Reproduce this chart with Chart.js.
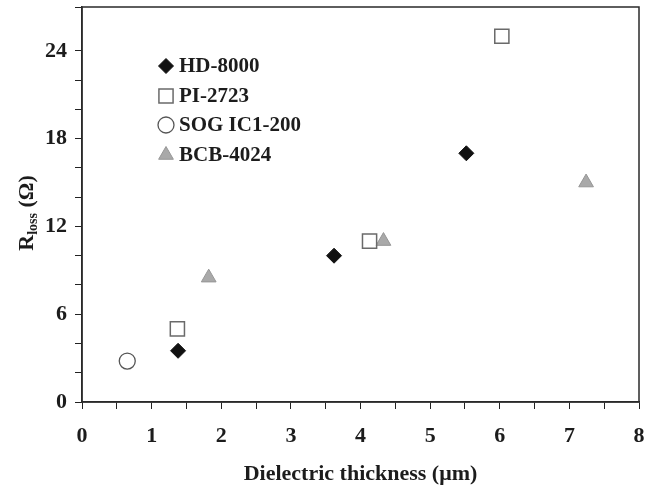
<!DOCTYPE html>
<html>
<head>
<meta charset="utf-8">
<script src="https://cdn.jsdelivr.net/npm/chart.js@4/dist/chart.umd.min.js"></script>
<style>
  html, body { margin: 0; padding: 0; background: #fff; }
  #wrap { width: 645px; height: 488px; }
</style>
</head>
<body>
<div id="wrap"><canvas id="grafica" width="645" height="488"></canvas></div>
<script>
// datos: espesor del dieléctrico (µm) contra R_loss (Ω)
const hdX   = [1.38, 3.62, 5.52];
const hdY   = [3.5, 10, 17];
const piX   = [1.37, 4.13, 6.03];
const piY   = [5, 11, 25];
const sogX  = [0.65];
const sogY  = [2.8];
const bcbX  = [1.82, 4.33, 7.24];
const bcbY  = [8.5, 11, 15];

const nombres = ['HD-8000', 'PI-2723', 'SOG IC1-200', 'BCB-4024'];
const xTicks = [0, 1, 2, 3, 4, 5, 6, 7, 8];
const yTicks = [0, 6, 12, 18, 24];

const FUENTE = '"Liberation Serif", "DejaVu Serif", serif';
const TINTA = '#1c1c1c';

const puntos = (xs, ys) => xs.map((x, i) => ({ x, y: ys[i] }));

// estilos de marcador por serie (se reutilizan en la leyenda)
const estilos = [
  { pointStyle: 'rectRot',  radius: 7.5, backgroundColor: '#111', borderColor: '#111', borderWidth: 1 },
  { pointStyle: 'rect',     radius: 10,  backgroundColor: 'rgba(255,255,255,0)', borderColor: '#6a6a6a', borderWidth: 1.5 },
  { pointStyle: 'circle',   radius: 8,   backgroundColor: 'rgba(255,255,255,0)', borderColor: '#555', borderWidth: 1.3 },
  { pointStyle: 'triangle', radius: 8.5, backgroundColor: '#a9a9a9', borderColor: '#969696', borderWidth: 1 },
];

const series = [
  puntos(hdX, hdY),
  puntos(piX, piY),
  puntos(sogX, sogY),
  puntos(bcbX, bcbY),
];

// sin relleno extra de etiquetas: el área de trazado llega a los bordes
const sinRelleno = (s) => {
  s.paddingLeft = 0;
  s.paddingRight = 0;
  s.paddingTop = 0;
  s.paddingBottom = 0;
};

// --- marco completo + leyenda dentro del área + título Y con subíndice ---
const extras = {
  id: 'extras',
  afterDraw(chart) {
    const { ctx, chartArea: a } = chart;
    ctx.save();
    ctx.strokeStyle = '#2a2a2a';
    ctx.lineWidth = 1.5;
    ctx.strokeRect(a.left, a.top, a.right - a.left, a.bottom - a.top);

    // leyenda
    const filasY = [66, 96, 125, 155];
    ctx.font = 'bold 21px ' + FUENTE;
    ctx.textBaseline = 'middle';
    ctx.textAlign = 'left';
    estilos.forEach((e, i) => {
      ctx.fillStyle = e.backgroundColor;
      ctx.strokeStyle = e.borderColor;
      ctx.lineWidth = e.borderWidth;
      Chart.helpers.drawPoint(ctx, {
        pointStyle: e.pointStyle, radius: e.radius, rotation: 0, borderWidth: e.borderWidth,
      }, 166, filasY[i]);
      ctx.fillStyle = TINTA;
      ctx.fillText(nombres[i], 179, filasY[i] + 1);
    });

    // título del eje Y: R_loss (Ω)
    ctx.translate(25, 213);
    ctx.rotate(-Math.PI / 2);
    ctx.textBaseline = 'alphabetic';
    const fGrande = 'bold 22px ' + FUENTE;
    const fChica = 'bold 14px ' + FUENTE;
    ctx.font = fGrande;
    const wR = ctx.measureText('R').width;
    const wResto = ctx.measureText(' (Ω)').width;
    ctx.font = fChica;
    const wSub = ctx.measureText('loss').width;
    let x = -(wR + wSub + wResto) / 2;
    ctx.font = fGrande;
    ctx.fillText('R', x, 8);
    x += wR;
    ctx.font = fChica;
    ctx.fillText('loss', x, 12);
    x += wSub;
    ctx.font = fGrande;
    ctx.fillText(' (Ω)', x, 8);
    ctx.restore();
  },
};

new Chart(document.querySelector('#grafica'), {
  type: 'scatter',
  data: {
    datasets: series.map((data, i) => ({
      label: nombres[i],
      data,
      pointStyle: estilos[i].pointStyle,
      pointRadius: estilos[i].radius,
      pointHoverRadius: estilos[i].radius,
      backgroundColor: estilos[i].backgroundColor,
      borderColor: estilos[i].borderColor,
      borderWidth: estilos[i].borderWidth,
    })),
  },
  options: {
    responsive: false,
    animation: false,
    layout: { autoPadding: false, padding: { top: 7, right: 6, left: 0, bottom: 0 } },
    plugins: { legend: { display: false }, tooltip: { enabled: false } },
    scales: {
      x: {
        type: 'linear',
        min: xTicks[0],
        max: xTicks[xTicks.length - 1],
        afterFit: (s) => { s.height = 86; sinRelleno(s); },
        ticks: {
          stepSize: 0.5,
          color: TINTA,
          padding: 14,
          maxRotation: 0,
          autoSkip: false,
          font: { family: FUENTE, size: 22, weight: 'bold' },
          callback: (v) => (xTicks.includes(v) ? String(v) : ''),
        },
        grid: { drawOnChartArea: false, tickLength: 7, color: '#222', lineWidth: 1 },
        border: { display: true, color: '#2a2a2a', width: 1.5 },
        title: {
          display: true,
          text: 'Dielectric thickness (μm)',
          color: TINTA,
          font: { family: FUENTE, size: 22, weight: 'bold' },
          padding: { top: 8, bottom: 0 },
        },
      },
      y: {
        type: 'linear',
        min: 0,
        max: 27,
        afterFit: (s) => { s.width = 82; sinRelleno(s); },
        ticks: {
          stepSize: 2,
          color: TINTA,
          padding: 8,
          autoSkip: false,
          font: { family: FUENTE, size: 22, weight: 'bold' },
          callback: (v) => (yTicks.includes(v) ? String(v) : ''),
        },
        grid: { drawOnChartArea: false, tickLength: 7, color: '#222', lineWidth: 1 },
        border: { display: true, color: '#2a2a2a', width: 1.5 },
      },
    },
  },
  plugins: [extras],
});
</script>
</body>
</html>
